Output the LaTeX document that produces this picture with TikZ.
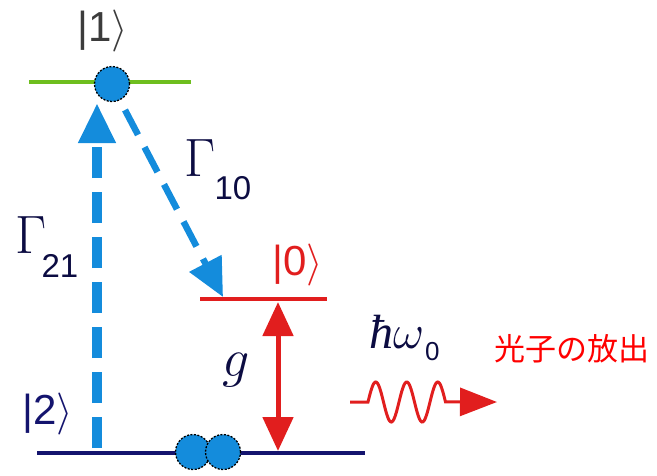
\RequirePackage{fix-cm}
\documentclass[tikz,border=0pt]{standalone}
\usepackage[no-math]{fontspec}
\setmainfont{Liberation Sans}
\newfontfamily\cjk{Noto Sans CJK JP}
\newfontfamily\lserif{Liberation Serif}
\usetikzlibrary{arrows.meta}
\definecolor{lgreen}{RGB}{110,190,30}
\definecolor{eblue}{RGB}{20,140,220}
\definecolor{lred}{RGB}{225,30,30}
\definecolor{lnavy}{RGB}{20,20,110}
\definecolor{kgray}{RGB}{60,60,60}
\begin{document}
\begin{tikzpicture}[x=1pt,y=-1pt,
  level/.style={line width=4.5pt},
  electron/.style={circle, minimum size=35pt, inner sep=0pt, fill=eblue, draw=black, dash pattern=on 2pt off 1.5pt, line width=1.3pt},
  ket/.style={font=\fontsize{42}{46}\selectfont, inner sep=0pt},
  mathlbl/.style={font=\fontsize{54}{60}\selectfont, inner sep=0pt, text=lnavy!60!black},
  sublbl/.style={font=\fontsize{33}{36}\selectfont, inner sep=0pt, text=lnavy!60!black}]
\useasboundingbox (0,0) rectangle (657,475);
% levels
\coordinate (L1a) at (29,82);  \coordinate (L1b) at (191,82);
\coordinate (L0a) at (200,299); \coordinate (L0b) at (327,299);
\coordinate (L2a) at (37,453); \coordinate (L2b) at (365,453);
\draw[level, lgreen] (L1a) -- (L1b);
\draw[level, lred] (L0a) -- (L0b);
\draw[level, lnavy] (L2a) -- (L2b);
% kets
\node[ket, text=kgray] (k1) at (103,31) {|1$\rangle$};
\node[ket, text=lred] (k0) at (298,265) {|0$\rangle$};
\node[ket, text=lnavy] (k2) at (48,414) {|2$\rangle$};
% pumping arrow
\coordinate (upS) at (97,448);
\coordinate (upE) at (97,103);
\draw[eblue, line width=10pt, dash pattern=on 31pt off 14pt, -{Triangle[length=40pt,width=35pt]}] (upS) -- (upE);
% decay arrow
\coordinate (dS) at (125,110);
\coordinate (dE) at (223,297);
\draw[eblue, line width=6.5pt, dash pattern=on 28pt off 14pt, -{Triangle[length=38pt,width=35pt]}] (dS) -- (dE);
% coupling arrow
\coordinate (gT) at (278,302);
\coordinate (gB) at (278,451);
\draw[lred, line width=5pt, {Triangle[length=34pt,width=30pt]}-{Triangle[length=34pt,width=30pt]}] (gT) -- (gB);
% electrons
\node[electron] (e1) at (112,84) {};
\node[electron] (e2a) at (193,452) {};
\node[electron] (e2b) at (223,452) {};
% labels
\node[mathlbl] (G10) at (200,158) {$\Gamma$};
\node[sublbl] (s10) at (233,188) {10};
\node[mathlbl] (G21) at (31,235) {$\Gamma$};
\node[sublbl] (s21) at (60,266) {21};
\node[mathlbl] (g) at (236,370) {$g$};
\node[font=\fontsize{48}{54}\selectfont, inner sep=0pt, text=lnavy!60!black, anchor=west] (hw) at (369,338) {{\lserif\itshape ħ}$\omega$\kern1pt\raisebox{-12pt}{\fontsize{26}{30}\selectfont 0}};
\node[font=\cjk\fontsize{31}{34}\selectfont, inner sep=0pt, text=red] (emit) at (572,349) {光子の放出};
% photon
\coordinate (wS) at (350,402);
\coordinate (wE) at (497,402);
\draw[lred, line width=3pt, -{Triangle[length=37pt,width=28pt]}] (wS) -- (368,402)
  -- plot[domain=0:2.5, samples=100, smooth] ({368+31*\x},{402-20*sin(360*\x)})
  -- (wE);
\end{tikzpicture}
\end{document}
